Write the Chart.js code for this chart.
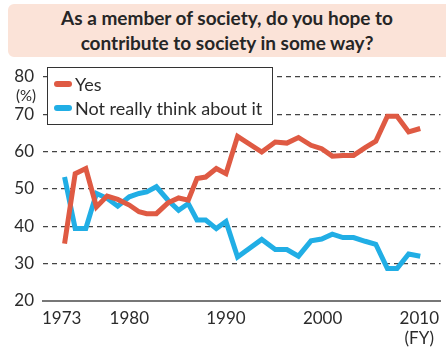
<!DOCTYPE html>
<html>
<head>
<meta charset="utf-8">
<script src="https://cdn.jsdelivr.net/npm/chart.js@4"></script>
<style>
  html, body { margin: 0; padding: 0; background: #fff; }
  #wrap { position: relative; width: 446px; height: 347px; overflow: hidden; }
  #title {
    position: absolute; left: 8px; top: 4px; width: 450px; height: 53px;
    background: #fbe3d8; border-radius: 6px;
    font: bold 19px Lato, sans-serif; color: #262626;
    text-align: center; line-height: 25px; padding-top: 1px; padding-right: 12px; box-sizing: border-box;
  }
  #chart { position: absolute; left: 0; top: 0; }
</style>
</head>
<body>
<div id="wrap">
  <canvas id="chart" width="446" height="347"></canvas>
  <div id="title">As a member of society, do you hope to<br>contribute to society in some way?</div>
</div>
<script>
// survey years (fiscal) and answer shares in %
const surveyYears = [1973.3, 1974.4, 1975.5, 1976.6, 1977.7, 1978.8, 1980.0, 1981.0, 1981.8, 1982.8,
  1984.0, 1985.1, 1986.1, 1987.0, 1987.9, 1989.0, 1990.0, 1991.2, 1993.7, 1995.1,
  1996.3, 1997.5, 1998.8, 1999.9, 2001.0, 2002.1, 2003.2, 2004.4, 2005.5, 2006.7,
  2007.7, 2008.9, 2010.1];
const yesValues = [35.4, 54.1, 55.5, 45.2, 48.1, 47.2, 45.7, 43.9, 43.4, 43.4,
  46.3, 47.6, 47.0, 52.8, 53.2, 55.5, 54.1, 64.1, 59.9, 62.6,
  62.3, 63.8, 61.7, 60.8, 58.8, 59.0, 59.0, 61.1, 62.8, 69.5,
  69.5, 65.3, 66.2];
const notReallyValues = [53.2, 39.4, 39.4, 48.8, 47.5, 45.4, 47.9, 48.8, 49.2, 50.6,
  47.0, 44.3, 46.1, 41.7, 41.7, 39.4, 41.3, 31.8, 36.5, 33.8,
  33.8, 32.0, 36.1, 36.6, 37.9, 37.0, 37.0, 36.0, 35.2, 28.7,
  28.7, 32.6, 32.0];
const seriesLabels = ['Yes', 'Not really think about it'];
const tickYears = [1973, 1980, 1990, 2000, 2010];

const RED = '#df5a43';
const BLUE = '#21aee5';
const TEXT = '#2b2b2b';
const FONT = 'Lato, sans-serif';

const toPoints = vals => vals.map((v, i) => ({ x: surveyYears[i], y: v }));

// boxed legend inside the plot, plus the "(%)" unit label
const boxLegend = {
  id: 'boxLegend',
  afterDatasetsDraw(chart) {
    const ctx = chart.ctx;
    ctx.save();
    ctx.fillStyle = '#fff';
    ctx.fillRect(47, 67, 225, 57);
    ctx.strokeStyle = '#333';
    ctx.lineWidth = 1;
    ctx.strokeRect(47.5, 67.5, 225, 57);
    ctx.font = '18px ' + FONT;
    ctx.textBaseline = 'middle';
    chart.data.datasets.forEach((ds, i) => {
      const y = 84 + i * 24;
      ctx.strokeStyle = ds.borderColor;
      ctx.lineWidth = 6;
      ctx.lineCap = 'round';
      ctx.beginPath();
      ctx.moveTo(57, y);
      ctx.lineTo(69, y);
      ctx.stroke();
      ctx.fillStyle = TEXT;
      ctx.fillText(ds.label, 75, y + 1);
    });
    ctx.font = '15px ' + FONT;
    ctx.textAlign = 'center';
    ctx.fillText('(%)', 26, 96);
    ctx.restore();
  }
};

new Chart(document.getElementById('chart'), {
  type: 'line',
  data: {
    datasets: [
      { label: seriesLabels[0], data: toPoints(yesValues), borderColor: RED, borderWidth: 5 },
      { label: seriesLabels[1], data: toPoints(notReallyValues), borderColor: BLUE, borderWidth: 5 }
    ]
  },
  options: {
    responsive: false,
    animation: false,
    elements: { point: { radius: 0 }, line: { tension: 0 } },
    layout: { padding: { top: 77, left: 0, right: 0, bottom: 0 } },
    plugins: { legend: { display: false }, tooltip: { enabled: false } },
    scales: {
      x: {
        type: 'linear',
        min: 1971.07,
        max: 2012.19,
        afterBuildTicks: scale => { scale.ticks = tickYears.map(v => ({ value: v })); },
        afterFit: scale => { scale.height = 46; },
        grid: { display: false, drawTicks: false },
        border: { display: true, color: '#777', width: 2 },
        ticks: {
          color: TEXT, font: { family: FONT, size: 17 }, padding: 7, autoSkip: false, maxRotation: 0,
          callback: v => v === 2010 ? ['2010', '(FY)'] : String(v)
        }
      },
      y: {
        min: 20,
        max: 80,
        afterFit: scale => { scale.width = 43; },
        grid: {
          drawTicks: false,
          color: c => c.tick.value === 20 ? 'rgba(0,0,0,0)' : '#444',
          lineWidth: 1.2
        },
        border: { display: false, dash: [5, 4] },
        ticks: { stepSize: 10, color: TEXT, font: { family: FONT, size: 17 }, padding: 9 }
      }
    }
  },
  plugins: [boxLegend]
});
</script>
</body>
</html>
